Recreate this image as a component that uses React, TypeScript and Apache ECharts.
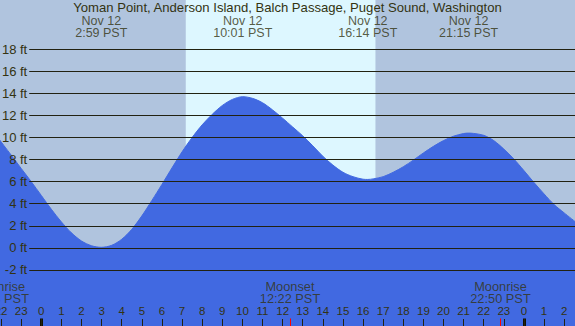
import React, { useEffect, useRef } from "react";
import * as echarts from "echarts";

// Tide readings (hour of Nov 12, feet)
const tideHours = [-2.1, -1.5, -1, -0.5, 0, 0.5, 1, 1.5, 2, 2.5, 2.983, 3.5, 4, 4.5, 5, 5.5, 6, 6.5, 7, 7.5, 8, 8.5, 9, 9.5, 10.017, 10.5, 11, 11.5, 12, 12.5, 13, 13.5, 14, 14.5, 15, 15.5, 16, 16.233, 16.5, 17, 17.5, 18, 18.5, 19, 19.5, 20, 20.5, 21, 21.25, 21.5, 22, 22.5, 23, 23.5, 24, 24.5, 25, 25.5, 26, 26.6];
const tideFeet = [9.85, 8.41, 7.2, 6.0, 4.75, 3.5, 2.35, 1.36, 0.62, 0.19, 0.05, 0.23, 0.78, 1.68, 2.9, 4.3, 5.75, 7.25, 8.7, 10.0, 11.15, 12.1, 12.9, 13.45, 13.7, 13.55, 13.15, 12.5, 11.75, 10.95, 10.15, 9.25, 8.3, 7.5, 6.85, 6.45, 6.22, 6.2, 6.25, 6.45, 6.85, 7.35, 7.95, 8.6, 9.2, 9.72, 10.12, 10.36, 10.4, 10.37, 10.2, 9.72, 8.95, 8.05, 7.0, 5.92, 4.89, 3.92, 3.17, 2.3];

// High / low tide events
const extremeTimes = ["2:59", "10:01", "16:14", "21:15"];
const extremeDates = ["Nov 12", "Nov 12", "Nov 12", "Nov 12"];

// Moon events (day offset relative to Nov 12)
const moonNames = ["Moonrise", "Moonset", "Moonrise"];
const moonTimes = ["21:53", "12:22", "22:50"];
const moonDayOffsets = [-1, 0, 0];

// Sun
const sunrise = "7:11";
const sunset = "16:37";

// Axis
const feetTicks = [-2, 0, 2, 4, 6, 8, 10, 12, 14, 16, 18];
const midnightHours = [0, 24];
const xMin = -3;
const xMax = 27;
const yMin = -7.08;
const yMax = 22.46;
const gridLineStart = -0.6;
const tickTop = -6.4;
const topLabelLevel = 20.03;
const bottomLabelLevel = -4.04;

const TITLE = "Yoman Point, Anderson Island, Balch Passage, Puget Sound, Washington";
const FONT = "'Liberation Sans', Arial, sans-serif";
const TEXT = "#333311";

const toHour = (t: string, offset = 0) => {
  const [h, m] = t.split(":").map(Number);
  return h + m / 60 + offset * 24;
};

export default function App() {
  const ref = useRef<HTMLDivElement>(null);
  useEffect(() => {
    if (!ref.current) return;
    const chart = echarts.init(ref.current, undefined, { renderer: "svg" });
    const tideData = tideHours.map((h, i) => [h, tideFeet[i]]);
    const moonHours = moonTimes.map((t, i) => toHour(t, moonDayOffsets[i]));
    chart.setOption({
      animation: false,
      backgroundColor: "#b0c4de",
      textStyle: { fontFamily: FONT },
      title: {
        text: TITLE,
        left: "center",
        top: 1,
        padding: 0,
        textStyle: { fontSize: 13.1, fontWeight: "normal", color: TEXT, fontFamily: FONT },
      },
      grid: {
        left: -19.03,
        right: -9.27,
        top: 0,
        bottom: 0,
        containLabel: false,
        outerBoundsMode: "none",
      },
      xAxis: {
        type: "value",
        min: xMin,
        max: xMax,
        interval: 1,
        position: "bottom",
        z: 10,
        axisLine: { show: false, onZero: false },
        splitLine: { show: false },
        axisTick: {
          show: true,
          inside: true,
          length: 7,
          lineStyle: { color: "#222211", width: 1 },
        },
        axisLabel: {
          show: true,
          inside: true,
          margin: 9,
          fontSize: 11.5,
          color: TEXT,
          fontFamily: FONT,
          showMinLabel: true,
          showMaxLabel: true,
          formatter: (v: number) => String(((Math.round(v) % 24) + 24) % 24),
        },
      },
      yAxis: {
        type: "value",
        min: yMin,
        max: yMax,
        show: false,
        splitLine: { show: false },
      },
      series: [
        {
          type: "line",
          data: tideData,
          showSymbol: false,
          symbol: "none",
          lineStyle: { opacity: 0 },
          z: 1,
          silent: true,
          markArea: {
            silent: true,
            itemStyle: { color: "#ddf7ff" },
            data: [[{ xAxis: toHour(sunrise), yAxis: yMin }, { xAxis: toHour(sunset), yAxis: yMax }]],
          },
        },
        {
          type: "line",
          data: tideData,
          smooth: 0.3,
          showSymbol: false,
          symbol: "none",
          lineStyle: { color: "#4169e1", width: 1 },
          areaStyle: { color: "#4169e1", opacity: 1, origin: "start" },
          z: 2,
          silent: true,
        },
        {
          type: "line",
          data: [],
          z: 5,
          silent: true,
          markLine: {
            silent: true,
            symbol: "none",
            animation: false,
            lineStyle: { color: "#222211", width: 1, type: "solid" },
            label: {
              show: true,
              position: "start",
              distance: 2,
              fontSize: 13,
              color: TEXT,
              fontFamily: FONT,
            },
            data: feetTicks.map((v) => [
              { coord: [gridLineStart, v], label: { formatter: `${v} ft` } },
              { coord: [xMax, v] },
            ]),
          },
        },
        {
          type: "line",
          data: [],
          z: 11,
          silent: true,
          markLine: {
            silent: true,
            symbol: "none",
            animation: false,
            label: { show: false },
            data: [
              ...midnightHours.map((h) => [
                { coord: [h, yMin], lineStyle: { color: "#111100", width: 3, type: "solid" } },
                { coord: [h, tickTop] },
              ]),
              ...moonHours.map((h) => [
                { coord: [h, yMin], lineStyle: { color: "#ff0000", width: 1, type: "solid" } },
                { coord: [h, tickTop] },
              ]),
            ],
          },
        },
        {
          type: "scatter",
          symbolSize: 0,
          z: 6,
          silent: true,
          data: extremeTimes.map((t, i) => ({
            value: [toHour(t), topLabelLevel],
            label: { formatter: `${extremeDates[i]}\n${t} PST` },
          })),
          label: {
            show: true,
            position: "inside",
            align: "center",
            fontSize: 12.5,
            lineHeight: 12.5,
            color: TEXT,
            fontFamily: FONT,
          },
        },
        {
          type: "scatter",
          symbolSize: 0,
          z: 6,
          silent: true,
          data: moonTimes.map((t, i) => ({
            value: [moonHours[i], bottomLabelLevel],
            label: { formatter: `${moonNames[i]}\n${t} PST` },
          })),
          label: {
            show: true,
            position: "inside",
            align: "center",
            fontSize: 12.8,
            lineHeight: 12.8,
            color: TEXT,
            fontFamily: FONT,
          },
        },
      ],
    });
    return () => chart.dispose();
  }, []);
  return (
    <div
      ref={ref}
      style={{ position: "fixed", left: 0, top: 0, width: 575, height: 326 }}
    />
  );
}
